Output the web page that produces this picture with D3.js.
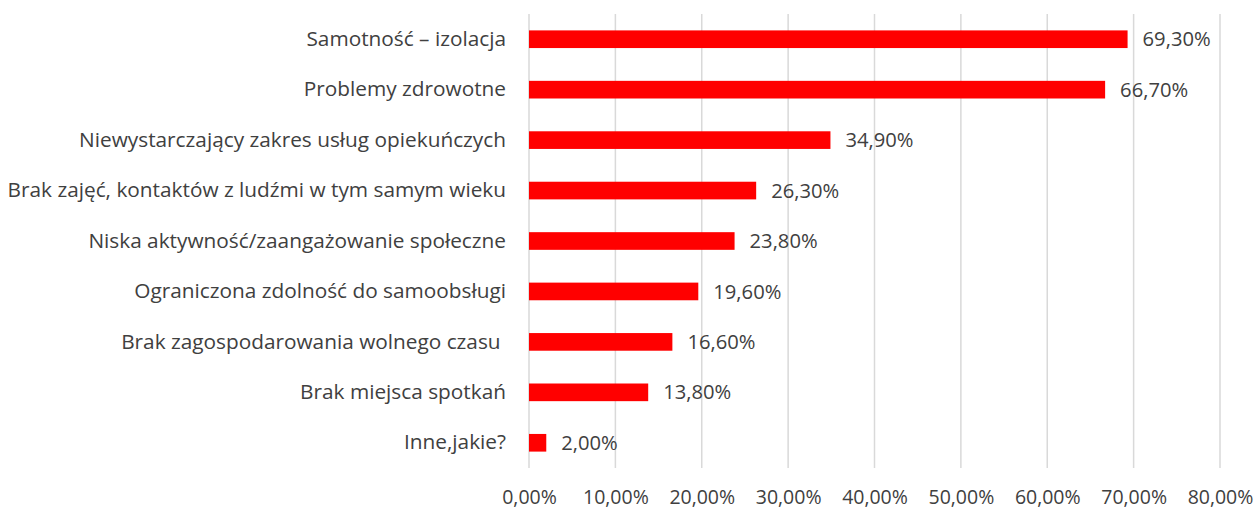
<!DOCTYPE html>
<html>
<head>
<meta charset="utf-8">
<script src="https://cdn.jsdelivr.net/npm/d3@7"></script>
<style>
  body { margin: 0; background: #fff; }
  text { white-space: pre; }
</style>
</head>
<body>
<div id="chart"></div>
<script>
const categories = [
  'Samotność – izolacja',
  'Problemy zdrowotne',
  'Niewystarczający zakres usług opiekuńczych',
  'Brak zajęć, kontaktów z ludźmi w tym samym wieku',
  'Niska aktywność/zaangażowanie społeczne',
  'Ograniczona zdolność do samoobsługi',
  'Brak zagospodarowania wolnego czasu ',
  'Brak miejsca spotkań',
  'Inne,jakie?'
];
const values = [69.3, 66.7, 34.9, 26.3, 23.8, 19.6, 16.6, 13.8, 2.0];
const ticks = [0, 10, 20, 30, 40, 50, 60, 70, 80];

const width = 1258, height = 511;
const margin = {top: 14, right: 38, bottom: 43, left: 529};
const textColor = '#404040';

const fmt = v => v.toFixed(2).replace('.', ',') + '%';

const svg = d3.select('#chart').append('svg')
  .attr('width', width)
  .attr('height', height)
  .attr('font-family', '"Open Sans", sans-serif');

const x = d3.scaleLinear()
  .domain([0, 80])
  .range([margin.left, width - margin.right]);

const y = d3.scaleBand()
  .domain(categories)
  .range([margin.top, height - margin.bottom])
  .paddingInner(0.65)
  .paddingOuter(0.325);

// gridlines
svg.append('g')
  .selectAll('line')
  .data(ticks)
  .join('line')
    .attr('x1', d => x(d))
    .attr('x2', d => x(d))
    .attr('y1', margin.top)
    .attr('y2', height - margin.bottom)
    .attr('stroke', '#d9d9d9')
    .attr('stroke-width', 1.5);

// x axis tick labels
const xAxis = d3.axisBottom(x)
  .tickValues(ticks)
  .tickFormat(fmt)
  .tickSize(0)
  .tickPadding(0);

svg.append('g')
  .attr('transform', `translate(0,${height - margin.bottom + 22})`)
  .call(xAxis)
  .call(g => g.select('.domain').remove())
  .call(g => g.selectAll('text')
    .attr('font-family', '"Open Sans", sans-serif')
    .attr('font-size', 19.5)
    .attr('fill', textColor));

// y axis labels
const yAxis = d3.axisLeft(y).tickSize(0).tickPadding(23);
svg.append('g')
  .attr('transform', `translate(${margin.left},0)`)
  .call(yAxis)
  .call(g => g.select('.domain').remove())
  .call(g => g.selectAll('text')
    .attr('font-family', '"Open Sans", sans-serif')
    .attr('font-size', 20.8)
    .attr('fill', textColor));

// bars
svg.append('g')
  .selectAll('rect')
  .data(values)
  .join('rect')
    .attr('x', x(0))
    .attr('y', (d, i) => y(categories[i]))
    .attr('width', d => x(d) - x(0))
    .attr('height', y.bandwidth())
    .attr('fill', '#ff0000');

// value labels
svg.append('g')
  .selectAll('text')
  .data(values)
  .join('text')
    .attr('x', d => x(d) + 15)
    .attr('y', (d, i) => y(categories[i]) + y.bandwidth() / 2)
    .attr('dy', '0.35em')
    .attr('font-size', 20.2)
    .attr('fill', textColor)
    .text(fmt);
</script>
</body>
</html>
